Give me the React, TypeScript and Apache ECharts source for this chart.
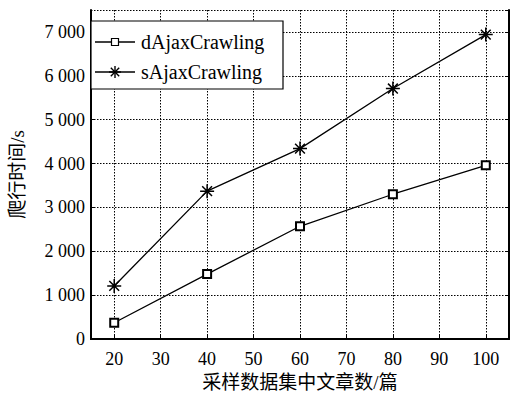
import React, { useEffect, useRef } from "react";
import * as echarts from "echarts";

const xValues = [20, 40, 60, 80, 100];
const dAjax = [370, 1480, 2570, 3300, 3960];
const sAjax = [1210, 3370, 4340, 5710, 6940];
const xTicks = [20, 30, 40, 50, 60, 70, 80, 90, 100];
const seriesNames = ["dAjaxCrawling", "sAjaxCrawling"];
const xName = "采样数据集中文章数/篇";
const yName = "爬行时间/s";

const FONT = "Liberation Serif";
const CJK_FONT = "Liberation Serif, Noto Sans CJK SC";
const ASTERISK =
  "path://M0,-10L0,10M-10,0L10,0M-7,-7L7,7M-7,7L7,-7";

function fmt(v: number) {
  if (v >= 1000) {
    return `${Math.floor(v / 1000)} ${String(v % 1000).padStart(3, "0")}`;
  }
  return String(v);
}

function asteriskLines(cx: number, cy: number, r: number) {
  const d = r * 0.7;
  const segs = [
    [0, -r, 0, r],
    [-r, 0, r, 0],
    [-d, -d, d, d],
    [-d, d, d, -d],
  ];
  return segs.map((s) => ({
    type: "line",
    shape: { x1: cx + s[0], y1: cy + s[1], x2: cx + s[2], y2: cy + s[3] },
    style: { stroke: "#000", lineWidth: 1.4 },
  }));
}

export default function App() {
  const ref = useRef<HTMLDivElement>(null);
  useEffect(() => {
    if (!ref.current) return;
    const chart = echarts.init(ref.current, undefined, { renderer: "svg" });
    const axisText = { color: "#000", fontFamily: FONT, fontSize: 18 };
    const legendTop = 42;
    const legendGap = 30;
    const legendEls: any[] = [
      {
        type: "rect",
        shape: { x: 91, y: 21, width: 192, height: 68 },
        style: { fill: "#fff", stroke: "#000", lineWidth: 1.2 },
        z: 100,
      },
    ];
    seriesNames.forEach((name, i) => {
      const y = legendTop + i * legendGap;
      legendEls.push({
        type: "line",
        shape: { x1: 95, y1: y, x2: 135, y2: y },
        style: { stroke: "#000", lineWidth: 1.3 },
        z: 101,
      });
      if (i === 0) {
        legendEls.push({
          type: "rect",
          shape: { x: 111.5, y: y - 3.5, width: 7, height: 7 },
          style: { fill: "#fff", stroke: "#000", lineWidth: 1.2 },
          z: 102,
        });
      } else {
        asteriskLines(115, y, 6).forEach((l) => legendEls.push({ ...l, z: 102 }));
      }
      legendEls.push({
        type: "text",
        x: 141,
        y,
        style: {
          text: name,
          fontFamily: FONT,
          fontSize: 20,
          fill: "#000",
          textVerticalAlign: "middle",
          verticalAlign: "middle",
        },
        z: 102,
      });
    });

    chart.setOption({
      animation: false,
      backgroundColor: "#fff",
      textStyle: { fontFamily: FONT, color: "#000" },
      grid: { left: 83, right: 1, top: 10, bottom: 49 },
      graphic: legendEls,
      xAxis: [
        {
          type: "value",
          min: 15,
          max: 105,
          name: xName,
          nameLocation: "middle",
          nameGap: 34,
          nameTextStyle: { ...axisText, fontSize: 19, fontFamily: CJK_FONT },
          axisLine: { lineStyle: { color: "#000", width: 2 } },
          axisTick: {
            inside: true,
            length: 4,
            customValues: xTicks,
            lineStyle: { color: "#000", width: 1 },
          },
          axisLabel: { ...axisText, customValues: xTicks, margin: 11 },
          splitLine: {
            show: true,
            lineStyle: { color: "#000", type: [1.5, 1.5], width: 1 },
          },
        },
        {
          type: "value",
          position: "top",
          min: 15,
          max: 105,
          axisLine: { show: true, lineStyle: { color: "#000", width: 2 } },
          axisTick: { show: false },
          axisLabel: { show: false },
          splitLine: { show: false },
        },
      ],
      yAxis: [
        {
          type: "value",
          min: 0,
          max: 7500,
          interval: 1000,
          name: yName,
          nameLocation: "middle",
          nameGap: 64,
          nameRotate: 90,
          nameTextStyle: { ...axisText, fontSize: 19, fontFamily: CJK_FONT },
          axisLine: { show: true, lineStyle: { color: "#000", width: 2 } },
          axisTick: { show: true, inside: true, length: 4, lineStyle: { color: "#000" } },
          axisLabel: { ...axisText, formatter: fmt, margin: 6, showMaxLabel: false },
          splitLine: {
            show: true,
            lineStyle: { color: "#000", type: [1.5, 1.5], width: 1 },
          },
        },
        {
          type: "value",
          position: "right",
          min: 0,
          max: 7500,
          interval: 1000,
          axisLine: { show: true, lineStyle: { color: "#000", width: 2 } },
          axisTick: { show: true, inside: true, length: 4, lineStyle: { color: "#000" } },
          axisLabel: { show: false },
          splitLine: { show: false },
        },
      ],
      series: [
        {
          name: seriesNames[0],
          type: "line",
          data: xValues.map((x, i) => [x, dAjax[i]]),
          symbol: "emptyRect",
          symbolSize: 8,
          lineStyle: { color: "#000", width: 1.3 },
          itemStyle: { color: "#000", borderColor: "#000", borderWidth: 1.3 },
        },
        {
          name: seriesNames[1],
          type: "line",
          data: xValues.map((x, i) => [x, sAjax[i]]),
          symbol: ASTERISK,
          symbolSize: 14,
          lineStyle: { color: "#000", width: 1.3 },
          itemStyle: { color: "#000", borderColor: "#000", borderWidth: 1.5 },
        },
      ],
    });
    return () => chart.dispose();
  }, []);
  return (
    <div
      ref={ref}
      style={{ position: "fixed", left: 0, top: 0, width: 510, height: 397 }}
    />
  );
}
